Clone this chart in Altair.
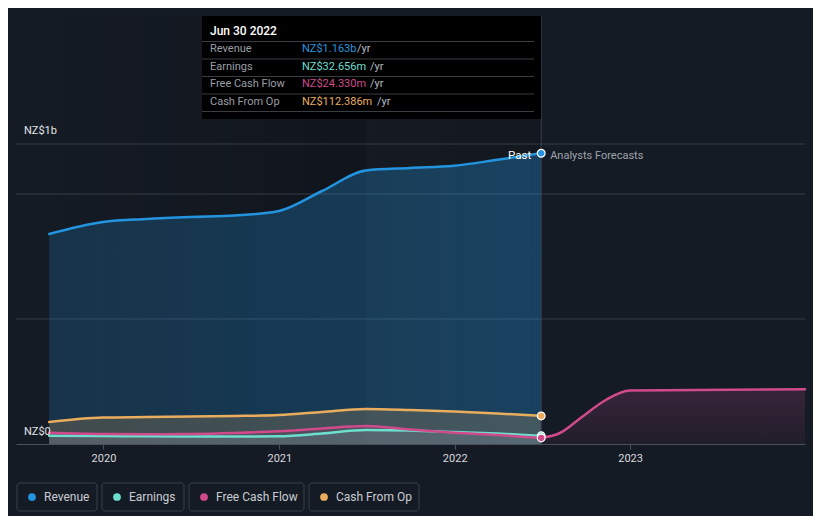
import altair as alt
import pandas as pd

# ---------------- data ----------------
past_dates = ["2019-09-10", "2019-12-31", "2020-03-31", "2020-06-30", "2020-09-30", "2020-12-31",
              "2021-03-31", "2021-06-30", "2021-09-30", "2021-12-31", "2022-03-31", "2022-06-30"]
revenue = [0.840, 0.888, 0.900, 0.908, 0.914, 0.932, 1.012, 1.094, 1.104, 1.113, 1.137, 1.163]
earnings = [0.033, 0.032, 0.031, 0.030, 0.030, 0.031, 0.042, 0.056, 0.054, 0.048, 0.042, 0.032656]
fcf = [0.045, 0.040, 0.039, 0.040, 0.044, 0.051, 0.062, 0.072, 0.058, 0.045, 0.036, 0.02433]
cfo = [0.088, 0.106, 0.108, 0.110, 0.112, 0.116, 0.128, 0.140, 0.136, 0.130, 0.122, 0.112386]

fc_dates = ["2022-06-30", "2022-08-08", "2022-09-20", "2022-11-13", "2022-12-31", "2023-12-31"]
fc_fcf = [0.02433, 0.044, 0.104, 0.178, 0.214, 0.219]

series_names = ["Revenue", "Earnings", "Free Cash Flow", "Cash From Op"]
series_colors = ["#2394df", "#6cdfcf", "#d04a8c", "#e9ad5d"]
last_values = [revenue[-1], earnings[-1], fcf[-1], cfo[-1]]
tooltip_date = "Jun 30 2022"
grid_values = [0.5, 1.0, 1.2]
y_labels = ["NZ$1b", "NZ$0"]
year_ticks = [2020, 2021, 2022, 2023]

BG = "#151b25"
W, H = 789, 428
FONT = "Roboto"

past = pd.DataFrame({
    "date": pd.to_datetime(past_dates),
    "revenue": revenue, "earnings": earnings, "fcf": fcf, "cfo": cfo,
})
fc = pd.DataFrame({"date": pd.to_datetime(fc_dates), "fcf": fc_fcf})
last = past.iloc[[-1]].copy()
last_date = last["date"].iloc[0]

xscale = alt.Scale(domain=[alt.DateTime(year=2019, month=7, date=3),
                           alt.DateTime(year=2023, month=12, date=31)], nice=False)
yscale = alt.Scale(domain=[0, 1.712], nice=False)

XAXIS = alt.Axis(values=[alt.DateTime(year=y, month=1, date=1) for y in year_ticks],
                 format="%Y", title=None, grid=False, labelColor="#d8dadd",
                 labelFontSize=11, labelFont=FONT, tickColor="#4c5058", tickSize=5,
                 domainColor="#4c5058", labelPadding=3)


def X(field="date"):
    return alt.X(f"{field}:T", scale=xscale, axis=XAXIS)


def Y(field):
    return alt.Y(f"{field}:Q", scale=yscale, axis=None)


def fmt(v):
    return f"NZ${v:.3f}b" if v >= 1 else f"NZ${v * 1000:.3f}m"


# background shading of the past region
band_df = pd.DataFrame({"start": pd.to_datetime(["2019-07-03"]), "end": [last_date]})
past_shade = alt.Chart(band_df).mark_rect(
    color=alt.Gradient(gradient="linear", x1=0, x2=1, y1=0, y2=0,
                       stops=[alt.GradientStop(color="rgba(0,0,0,0)", offset=0),
                              alt.GradientStop(color="rgba(0,0,0,0.32)", offset=1)])
).encode(x=X("start"), x2="end:T", y=alt.value(0), y2=alt.value(H))

ly_df = pd.DataFrame({"start": pd.to_datetime(["2021-06-30"]), "end": [last_date]})
last_year = alt.Chart(ly_df).mark_rect(color="#ffffff", opacity=0.025).encode(
    x=X("start"), x2="end:T", y=alt.value(0), y2=alt.value(H))

grid = alt.Chart(pd.DataFrame({"g": grid_values})).mark_rule(color="#363c45", strokeWidth=1).encode(
    y=alt.Y("g:Q", scale=yscale, axis=None), x=alt.value(0), x2=alt.value(W))

rev_area = alt.Chart(past).mark_area(
    interpolate="monotone",
    color=alt.Gradient(gradient="linear", x1=0, x2=1, y1=0, y2=0,
                       stops=[alt.GradientStop(color="rgba(35,148,223,0.2)", offset=0),
                              alt.GradientStop(color="rgba(35,148,223,0.34)", offset=1)])
).encode(x=X(), y=Y("revenue"), y2=alt.datum(0))

cfo_area = alt.Chart(past).mark_area(interpolate="monotone", color=series_colors[3], opacity=0.2).encode(
    x=X(), y=Y("cfo"), y2=alt.datum(0))
fcf_area = alt.Chart(past).mark_area(interpolate="monotone", color=series_colors[2], opacity=0.12).encode(
    x=X(), y=Y("fcf"), y2=alt.datum(0))
earn_area = alt.Chart(past).mark_area(interpolate="monotone", color=series_colors[1], opacity=0.14).encode(
    x=X(), y=Y("earnings"), y2=alt.datum(0))

fc_area = alt.Chart(fc).mark_area(
    interpolate="monotone",
    color=alt.Gradient(gradient="linear", x1=0, x2=0, y1=0, y2=1,
                       stops=[alt.GradientStop(color="rgba(208,74,140,0.19)", offset=0),
                              alt.GradientStop(color="rgba(208,74,140,0.06)", offset=1)])
).encode(x=X(), y=Y("fcf"), y2=alt.datum(0))

vline = alt.Chart(last).mark_rule(color="#34404e", strokeWidth=1).encode(
    x=X(), y=alt.value(0), y2=alt.value(H))


def line(df, field, color):
    return alt.Chart(df).mark_line(interpolate="monotone", color=color, strokeWidth=2.5,
                                   strokeCap="round").encode(x=X(), y=Y(field))


lines = [
    line(past, "cfo", series_colors[3]),
    line(past, "earnings", series_colors[1]),
    line(past, "fcf", series_colors[2]),
    line(fc, "fcf", series_colors[2]),
    line(past, "revenue", series_colors[0]),
]


def dot(field, color):
    return alt.Chart(last).mark_point(filled=True, shape="circle", size=60, fill=color,
                                      stroke="#ffffff", strokeWidth=1.2, opacity=1).encode(
        x=X(), y=Y(field))


dots = [dot("cfo", series_colors[3]), dot("earnings", series_colors[1]),
        dot("fcf", series_colors[2]), dot("revenue", series_colors[0])]

past_lbl = alt.Chart(last).mark_text(text="Past", align="right", baseline="middle", dx=-10, dy=3,
                                     color="#ffffff", fontSize=11.5, font=FONT).encode(
    x=X(), y=Y("revenue"))
fc_lbl = alt.Chart(last).mark_text(text="Analysts Forecasts", align="left", baseline="middle", dx=9, dy=3,
                                   color="#9ea3aa", fontSize=11, font=FONT).encode(
    x=X(), y=Y("revenue"))

ylab = alt.Chart(pd.DataFrame({"t": y_labels, "py": [115, 416]})).mark_text(
    align="left", baseline="middle", color="#e2e4e7", fontSize=11, font=FONT).encode(
    x=alt.value(8), y=alt.Y("py:Q", scale=None), text="t:N")

# ---------------- tooltip box ----------------
tip_box = alt.Chart(pd.DataFrame({"a": [0]})).mark_rect(color="#000000").encode(
    x=alt.value(186), x2=alt.value(525), y=alt.value(0), y2=alt.value(103))
tip_title = alt.Chart(pd.DataFrame({"a": [0]})).mark_text(
    text=tooltip_date, align="left", baseline="middle", color="#ffffff", fontSize=12,
    font=FONT, fontWeight=500).encode(x=alt.value(194), y=alt.value(15))
sep_df = pd.DataFrame({"sy": [25.5, 43, 60.5, 78, 95.5]})
tip_seps = alt.Chart(sep_df).mark_rule(color="#3a3d42", strokeWidth=1).encode(
    x=alt.value(186), x2=alt.value(518), y=alt.Y("sy:Q", scale=None))
row_y = [33, 50.5, 68, 85.5]
yr_x = [341, 354, 354, 361]
tip_df = pd.DataFrame({
    "label": series_names, "value": [fmt(v) for v in last_values], "c": series_colors,
    "ry": row_y, "yx": yr_x, "yr": ["/yr"] * 4,
})
tip_labels = alt.Chart(tip_df).mark_text(align="left", baseline="middle", color="#9a9ea5",
                                         fontSize=11, font=FONT).encode(
    x=alt.value(194), y=alt.Y("ry:Q", scale=None), text="label:N")
tip_values = alt.Chart(tip_df).mark_text(align="left", baseline="middle", fontSize=11, font=FONT).encode(
    x=alt.value(286), y=alt.Y("ry:Q", scale=None), text="value:N", color=alt.Color("c:N", scale=None))
tip_yr = alt.Chart(tip_df).mark_text(align="left", baseline="middle", color="#b8bcc2",
                                     fontSize=11, font=FONT).encode(
    x=alt.X("yx:Q", scale=None), y=alt.Y("ry:Q", scale=None), text="yr:N")

# ---------------- legend ----------------
box_x0 = [1, 86, 173, 293]
box_x1 = [81, 168, 288, 403]
leg_df = pd.DataFrame({
    "name": series_names, "c": series_colors,
    "x0": box_x0, "x1": box_x1,
    "dx": [b + 15 for b in box_x0], "tx": [b + 27 for b in box_x0],
})
leg_boxes = alt.Chart(leg_df).mark_rect(fill=BG, stroke="#3a404a", strokeWidth=1, cornerRadius=3).encode(
    x=alt.X("x0:Q", scale=None), x2="x1:Q", y=alt.value(467), y2=alt.value(495))
leg_dots = alt.Chart(leg_df).mark_point(filled=True, shape="circle", size=60, opacity=1).encode(
    x=alt.X("dx:Q", scale=None), y=alt.value(481), color=alt.Color("c:N", scale=None))
leg_text = alt.Chart(leg_df).mark_text(align="left", baseline="middle", color="#c9ccd1",
                                       fontSize=12, font=FONT).encode(
    x=alt.X("tx:Q", scale=None), y=alt.value(481), text="name:N")

chart = alt.layer(
    past_shade, last_year, grid, rev_area, cfo_area, fcf_area, earn_area, fc_area, vline,
    *lines, *dots, past_lbl, fc_lbl, ylab,
    tip_box, tip_seps, tip_title, tip_labels, tip_values, tip_yr,
    leg_boxes, leg_dots, leg_text,
).properties(
    width=W, height=H, background=BG,
    padding={"left": 8, "top": 8, "right": 8, "bottom": 72},
    autosize=alt.AutoSizeParams(type="none"),
).configure_view(stroke=None)

chart.save("out.html", embed_options={"renderer": "svg", "actions": False})
